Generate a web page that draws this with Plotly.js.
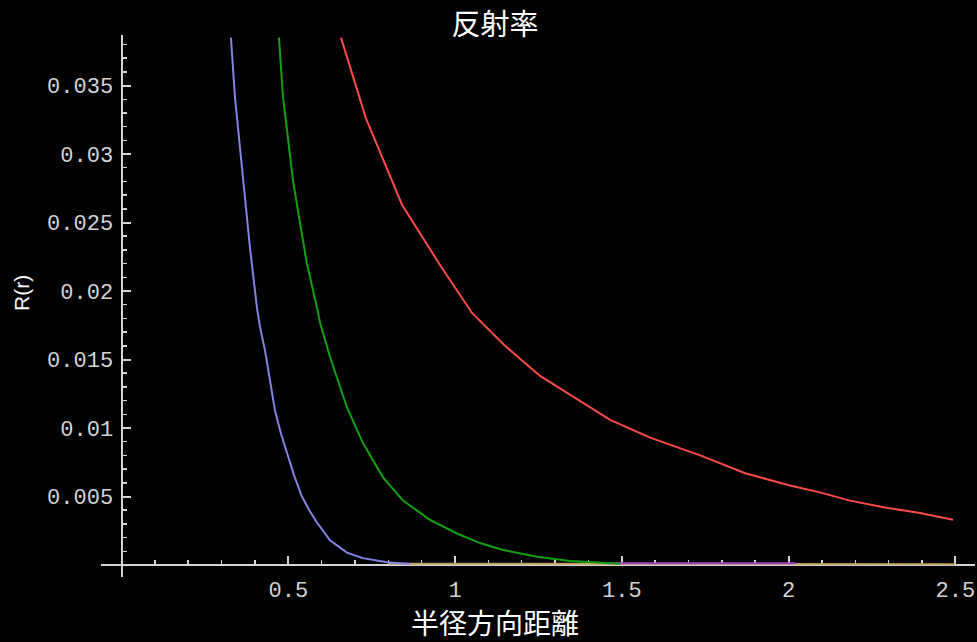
<!DOCTYPE html>
<html>
<head>
<meta charset="utf-8">
<script src="https://cdn.plot.ly/plotly-3.0.1.min.js"></script>
<style>html,body{margin:0;padding:0;background:#000;}</style>
</head>
<body>
<div id="chart" style="width:977px;height:642px;"></div>
<script>
// Series
const redX   = [0.658, 0.733, 0.841, 0.955, 1.051, 1.150, 1.255, 1.360, 1.465, 1.585, 1.735, 1.870, 2.004, 2.094, 2.184, 2.289, 2.394, 2.493];
const redY   = [0.0385, 0.0326, 0.0263, 0.0219, 0.0184, 0.0160, 0.0138, 0.0122, 0.0106, 0.0093, 0.0080, 0.0067, 0.0058, 0.0053, 0.0047, 0.0042, 0.0038, 0.0033];

const greenX = [0.472, 0.484, 0.496, 0.514, 0.535, 0.556, 0.586, 0.595, 0.625, 0.676, 0.724, 0.784, 0.844, 0.925, 1.006, 1.075, 1.144, 1.246, 1.345, 1.444, 1.495];
const greenY = [0.0385, 0.0342, 0.0318, 0.0281, 0.0250, 0.0220, 0.0188, 0.0177, 0.0152, 0.0115, 0.0089, 0.0064, 0.0047, 0.0033, 0.0023, 0.0016, 0.0011, 0.0006, 0.0003, 0.0002, 0.0001];

const blueX  = [0.328, 0.334, 0.340, 0.355, 0.370, 0.385, 0.406, 0.415, 0.430, 0.445, 0.460, 0.478, 0.496, 0.518, 0.541, 0.563, 0.586, 0.625, 0.676, 0.724, 0.796, 0.865];
const blueY  = [0.0385, 0.0362, 0.0342, 0.0305, 0.0269, 0.0232, 0.0188, 0.0174, 0.0157, 0.0134, 0.0113, 0.0096, 0.0082, 0.0065, 0.0050, 0.0040, 0.0031, 0.0018, 0.0009, 0.0005, 0.0002, 0.00007];

const purpleX = [1.46, 1.60, 1.80, 2.02];
const purpleY = [0.00012, 0.00012, 0.00012, 0.00012];

const tanX = [0.80, 1.07, 1.08, 1.50, 2.00, 2.50];
const tanY = [0.00009, 0.00009, 0.00006, 0.00006, 0.00006, 0.00006];

const xTickVals = [0.5, 1, 1.5, 2, 2.5];
const xTickText = ["0.5", "1", "1.5", "2", "2.5"];
const yTickVals = [0.005, 0.01, 0.015, 0.02, 0.025, 0.03, 0.035];
const yTickText = ["0.005", "0.01", "0.015", "0.02", "0.025", "0.03", "0.035"];

const xRange = [-0.0615, 2.559];
const yRange = [-0.000876, 0.03869];

const axisColor = '#d4d4d4';
const tickFont = {family: 'Liberation Mono, monospace', size: 22, color: '#d4d4d4'};

function line(x, y, color) {
  return {x: x, y: y, type: 'scatter', mode: 'lines', line: {color: color, width: 2}, hoverinfo: 'skip', showlegend: false, cliponaxis: false};
}

const traces = [
  line(tanX, tanY, '#c0a060'),
  line(purpleX, purpleY, '#a040c8'),
  line(redX, redY, '#ff4a4a'),
  line(greenX, greenY, '#10a010'),
  line(blueX, blueY, '#8484e4')
];

const layout = {
  width: 977, height: 642,
  paper_bgcolor: '#000', plot_bgcolor: '#000',
  margin: {l: 101, r: 2, t: 35, b: 65},
  showlegend: false,
  title: {text: '反射率', x: 495/977, xref: 'container', y: 0.962, yref: 'container', yanchor: 'middle',
          font: {family: 'Noto Sans CJK JP', size: 29, color: '#ffffff'}},
  xaxis: {
    range: xRange, showgrid: false, zeroline: false,
    showline: true, linecolor: axisColor, linewidth: 2, layer: 'below traces',
    anchor: 'free', position: (0 - yRange[0]) / (yRange[1] - yRange[0]),
    tickmode: 'array', tickvals: xTickVals, ticktext: xTickText,
    ticks: 'inside', ticklen: 8, tickwidth: 2, tickcolor: axisColor,
    ticklabelstandoff: 5,
    minor: {tickmode: 'linear', tick0: 0, dtick: 0.1, ticks: 'inside', ticklen: 4, tickwidth: 1.5, tickcolor: axisColor, showgrid: false},
    tickfont: tickFont, fixedrange: true
  },
  yaxis: {
    range: yRange, showgrid: false, zeroline: false,
    showline: true, linecolor: axisColor, linewidth: 2, layer: 'below traces',
    anchor: 'free', position: (0 - xRange[0]) / (xRange[1] - xRange[0]),
    tickmode: 'array', tickvals: yTickVals, ticktext: yTickText,
    ticks: 'inside', ticklen: 8, tickwidth: 2, tickcolor: axisColor,
    ticklabelstandoff: 3,
    minor: {tickmode: 'linear', tick0: 0, dtick: 0.001, ticks: 'inside', ticklen: 4, tickwidth: 1.5, tickcolor: axisColor, showgrid: false},
    tickfont: tickFont, fixedrange: true
  },
  annotations: [
    {text: '半径方向距離', xref: 'paper', yref: 'paper',
     x: (495 - 101) / 874, y: (577 - 622) / 542, xanchor: 'center', yanchor: 'middle', showarrow: false,
     font: {family: 'Noto Sans CJK JP', size: 28, color: '#ffffff'}},
    {text: 'R(r)', xref: 'paper', yref: 'paper', textangle: -90,
     x: (21 - 101) / 874, y: (577 - 293) / 542, xanchor: 'center', yanchor: 'middle', showarrow: false,
     font: {family: 'Liberation Sans', size: 21, color: '#ffffff'}}
  ]
};

Plotly.newPlot('chart', traces, layout, {staticPlot: true, displayModeBar: false});
</script>
</body>
</html>
